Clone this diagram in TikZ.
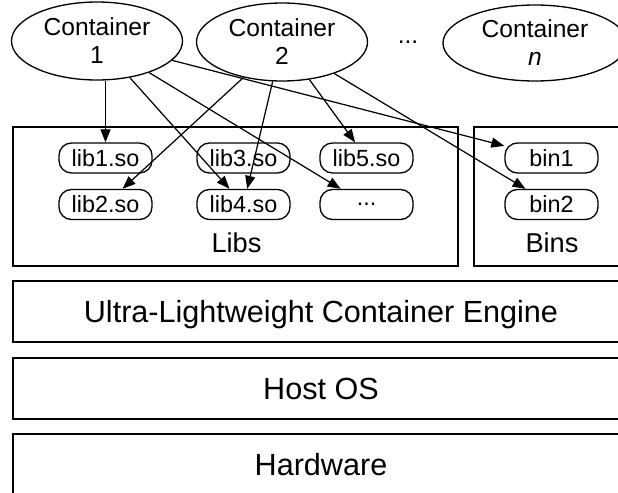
\documentclass[tikz,border=0pt]{standalone}
\usepackage{fontspec}
\setmainfont{Liberation Sans}
\usepackage{tikz}
\usetikzlibrary{shapes.geometric, arrows.meta}
\tikzstyle{container} = [ellipse, draw, line width=0.75pt, inner sep=0pt, minimum width=3.42cm, minimum height=1.56cm, align=center, font=\fontsize{14}{16}\selectfont]
\tikzstyle{lib} = [rectangle, rounded corners=0.25cm, draw, line width=0.75pt, minimum width=1.86cm, minimum height=0.6cm, inner sep=0pt, font=\fontsize{13.3}{15}\selectfont]
\tikzstyle{group} = [rectangle, draw, line width=1pt, inner sep=0pt, minimum height=2.78cm]
\tikzstyle{layer} = [rectangle, draw, line width=1pt, inner sep=0pt, minimum width=12.33cm, minimum height=1.22cm, text depth=0pt, font=\fontsize{17.4}{20}\selectfont]
\tikzstyle{arrow} = [line width=0.7pt, -{Triangle[length=2.6mm, width=2mm]}]

\begin{document}
\begin{tikzpicture}
    \useasboundingbox (0, 0) rectangle (12.36, -9.84);

    % Containers
    \node[container] (c1) at (1.94, -0.82) {Container\\1};
    \node[container] (c2) at (5.64, -0.84) {Container\\2};
    \node[font=\fontsize{14}{16}\selectfont] (cdots) at (8.16, -0.84) {...};
    \node[container, minimum width=3.68cm, minimum height=1.52cm] (cn) at (10.70, -0.86) {Container\\\textit{n}};

    % Libs and Bins
    \node[group, minimum width=8.91cm] (libs) at (4.71, -3.93) {};
    \node[group, minimum width=3.10cm] (bins) at (11.03, -3.93) {};
    \node[font=\fontsize{15.5}{18}\selectfont] (libslabel) at (4.73, -4.86) {Libs};
    \node[font=\fontsize{15.5}{18}\selectfont] (binslabel) at (11.04, -4.86) {Bins};

    \node[lib] (lib1) at (2.11, -3.16) {lib1.so};
    \node[lib] (lib2) at (2.11, -4.09) {lib2.so};
    \node[lib] (lib3) at (4.87, -3.16) {lib3.so};
    \node[lib] (lib4) at (4.87, -4.09) {lib4.so};
    \node[lib] (lib5) at (7.33, -3.16) {lib5.so};
    \node[lib] (libx) at (7.33, -4.09) {...};
    \node[lib] (bin1) at (11.03, -3.16) {bin1};
    \node[lib] (bin2) at (11.03, -4.09) {bin2};

    % Layers
    \node[layer] (engine) at (6.42, -6.23) {Ultra-Lightweight Container Engine};
    \node[layer] (hostos) at (6.42, -7.77) {Host OS};
    \node[layer] (hardware) at (6.42, -9.29) {Hardware};

    % Dependencies
    \draw[arrow] (c1.south -| lib1.north) -- (lib1);
    \draw[arrow] (c1) -- (lib4);
    \draw[arrow] (c1) -- (libx);
    \draw[arrow] (c1) -- (bin1);
    \draw[arrow] (c2) -- (lib2);
    \draw[arrow] (c2) -- (lib4);
    \draw[arrow] (c2) -- (lib5);
    \draw[arrow] (c2) -- (bin2);
\end{tikzpicture}
\end{document}
